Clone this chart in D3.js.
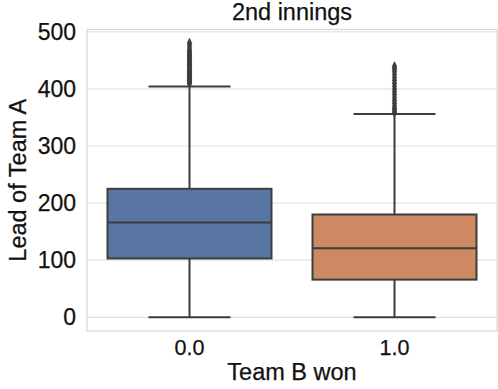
<!DOCTYPE html>
<html>
<head>
<meta charset="utf-8">
<script src="https://cdn.jsdelivr.net/npm/d3@7"></script>
<style>
  html, body { margin: 0; padding: 0; background: #fff; }
  svg { display: block; font-family: "Liberation Sans", Arial, Helvetica, sans-serif; }
  text { fill: #111; stroke: #111; stroke-width: 0.25px; }
</style>
</head>
<body>
<svg id="chart" width="498" height="389"></svg>
<script>
// Lead of Team A in the 2nd innings, split by whether Team B won
const categories = ["0.0", "1.0"];
const q1 = [103, 66];
const medians = [166, 121];
const q3 = [225, 180];
const whiskerLow = [0, 0];
const whiskerHigh = [404, 356];
const outliers0 = [409, 410, 412, 413, 415, 416, 418, 420, 421, 423, 425, 426, 428, 430, 431, 433, 435, 437,
                   439, 441, 443, 445, 447, 449, 451, 453, 455, 457, 459, 461, 463, 465, 467, 470, 474, 478, 481];
const outliers1 = [358, 360, 363, 366, 370, 375, 380, 385, 390, 395, 400, 405, 410, 415, 420,
                   425, 430, 434, 437, 440];
const outliers = [outliers0, outliers1];
const yTicks = [0, 100, 200, 300, 400, 500];
const boxColors = ["#5975a4", "#cc8963"];
const lineColor = "#3d3d3d";

const svg = d3.select("#chart");
const plotLeft = 87, plotRight = 497, plotTop = 29.5, plotBottom = 331;

const x = d3.scaleBand().domain(categories).range([plotLeft, plotRight]).paddingInner(0).paddingOuter(0);
const y = d3.scaleLinear().domain([-24, 504]).range([plotBottom, plotTop]);
const boxW = x.bandwidth() * 0.8;

// horizontal grid
svg.append("g")
  .selectAll("line")
  .data(yTicks)
  .join("line")
  .attr("x1", plotLeft).attr("x2", plotRight)
  .attr("y1", d => y(d)).attr("y2", d => y(d))
  .attr("stroke", "#e2e2e2").attr("stroke-width", 1.2);

// frame
svg.append("rect")
  .attr("x", plotLeft).attr("y", plotTop)
  .attr("width", plotRight - plotLeft).attr("height", plotBottom - plotTop)
  .attr("fill", "none").attr("stroke", "#d8d8d8").attr("stroke-width", 1.2);

// y axis
const yAxis = svg.append("g")
  .attr("transform", `translate(${plotLeft},0)`)
  .call(d3.axisLeft(y).tickValues(yTicks).tickSize(0).tickPadding(11));
yAxis.select(".domain").remove();
yAxis.selectAll("text")
  .attr("font-size", 23)
  .attr("font-family", "'Liberation Sans', Arial, sans-serif");

// x axis
const xAxis = svg.append("g")
  .attr("transform", `translate(0,${plotBottom})`)
  .call(d3.axisBottom(x).tickSize(0).tickPadding(9));
xAxis.select(".domain").remove();
xAxis.selectAll("text")
  .attr("font-size", 21.5)
  .attr("font-family", "'Liberation Sans', Arial, sans-serif");

// boxes
const groups = svg.append("g")
  .selectAll("g")
  .data(categories)
  .join("g");

groups.each(function(cat, i) {
  const g = d3.select(this);
  const cx = x(cat) + x.bandwidth() / 2;
  // whiskers
  g.append("line")
    .attr("x1", cx).attr("x2", cx)
    .attr("y1", y(q3[i])).attr("y2", y(whiskerHigh[i]))
    .attr("stroke", lineColor).attr("stroke-width", 2);
  g.append("line")
    .attr("x1", cx).attr("x2", cx)
    .attr("y1", y(q1[i])).attr("y2", y(whiskerLow[i]))
    .attr("stroke", lineColor).attr("stroke-width", 2);
  // caps
  [whiskerHigh[i], whiskerLow[i]].forEach(v => {
    g.append("line")
      .attr("x1", cx - boxW / 4).attr("x2", cx + boxW / 4)
      .attr("y1", y(v)).attr("y2", y(v))
      .attr("stroke", lineColor).attr("stroke-width", 2);
  });
  // box
  g.append("rect")
    .attr("x", cx - boxW / 2).attr("width", boxW)
    .attr("y", y(q3[i])).attr("height", y(q1[i]) - y(q3[i]))
    .attr("fill", boxColors[i]).attr("stroke", lineColor).attr("stroke-width", 2);
  // median
  g.append("line")
    .attr("x1", cx - boxW / 2).attr("x2", cx + boxW / 2)
    .attr("y1", y(medians[i])).attr("y2", y(medians[i]))
    .attr("stroke", lineColor).attr("stroke-width", 2);
  // outliers as diamonds
  g.selectAll("path.flier")
    .data(outliers[i])
    .join("path")
    .attr("class", "flier")
    .attr("d", d3.symbol(d3.symbolDiamond, 16))
    .attr("transform", d => `translate(${cx},${y(d)}) scale(1,1.2)`)
    .attr("fill", lineColor).attr("stroke", lineColor).attr("stroke-width", 0.5);
});

// title and axis labels
svg.append("text")
  .attr("x", (plotLeft + plotRight) / 2).attr("y", 20)
  .attr("text-anchor", "middle")
  .attr("font-size", 23.5)
  .text("2nd innings");

svg.append("text")
  .attr("x", (plotLeft + plotRight) / 2).attr("y", 380)
  .attr("text-anchor", "middle")
  .attr("font-size", 23.5)
  .text("Team B won");

svg.append("text")
  .attr("transform", `translate(26,${(plotTop + plotBottom) / 2}) rotate(-90)`)
  .attr("text-anchor", "middle")
  .attr("font-size", 23.5)
  .text("Lead of Team A");
</script>
</body>
</html>
